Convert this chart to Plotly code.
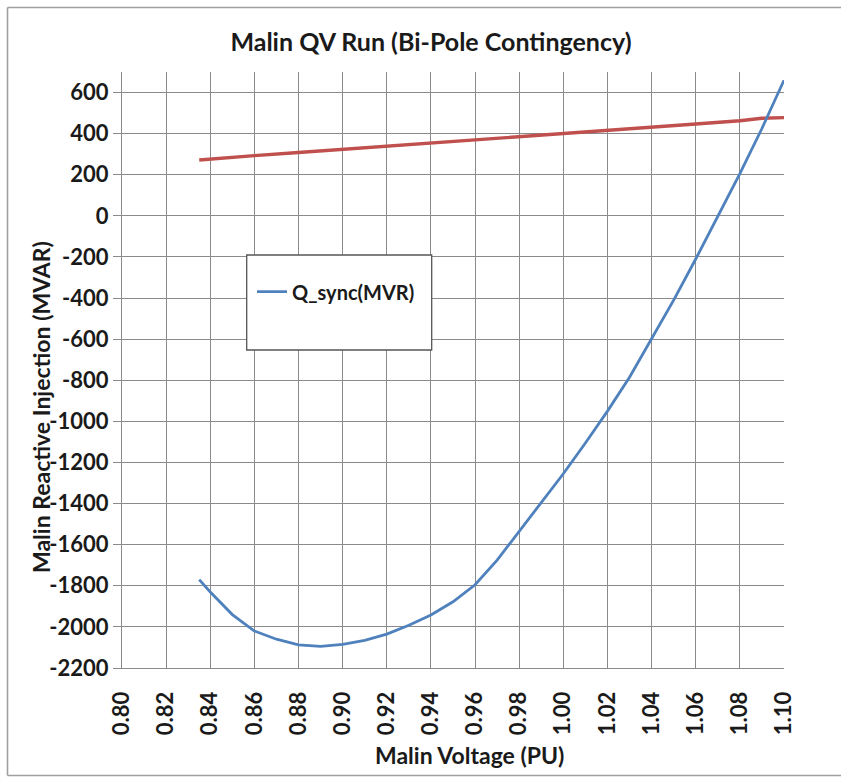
import plotly.graph_objects as go

# ---- data ----
voltage_pu = [0.835, 0.84, 0.85, 0.86, 0.87, 0.88, 0.89, 0.90, 0.91, 0.92, 0.93, 0.94,
              0.95, 0.96, 0.97, 0.98, 0.99, 1.00, 1.01, 1.02, 1.03, 1.04, 1.05, 1.06,
              1.07, 1.08, 1.09, 1.10]
q_sync = [-1770, -1830, -1940, -2020, -2060, -2087, -2095, -2085, -2065, -2035, -1992, -1942,
          -1878, -1795, -1675, -1535, -1395, -1255, -1105, -950, -785, -595, -410, -210,
          0, 205, 425, 660]

limit_voltage = [0.835, 0.84, 0.86, 0.88, 0.90, 0.92, 0.94, 0.96, 0.98, 1.00, 1.02, 1.04,
                 1.06, 1.08, 1.09, 1.10]
q_limit = [272, 277, 293, 308, 323, 339, 354, 369, 383, 400, 415, 430, 447, 463, 475, 478]

y_ticks = list(range(-2200, 601, 200))
y_tick_labels = [str(v) for v in y_ticks]
x_ticks = [0.80, 0.82, 0.84, 0.86, 0.88, 0.90, 0.92, 0.94, 0.96, 0.98, 1.00, 1.02, 1.04,
           1.06, 1.08, 1.10]
x_tick_labels = ["%.2f" % v for v in x_ticks]

title_text = "Malin QV Run (Bi-Pole Contingency)"
x_title = "Malin Voltage (PU)"
y_title = "Malin Reactive Injection (MVAR)"
legend_name = "Q_sync(MVR)"

# ---- layout helpers (screen pixel -> paper fraction; body margin removed) ----
W, H = 841, 777
L, T = 122, 72
PW, PH = 662, 596
R, B = W - L - PW, H - T - PH


def px(xs):
    return (xs - L) / PW


def py(ys):
    return (T + PH - ys) / PH


FONT = "Lato, 'Open Sans', sans-serif"
INK = "#1a1a1a"
GRID = "#8a8a8a"
FRAME = "#a0a0a0"

fig = go.Figure()
fig.add_trace(go.Scatter(x=limit_voltage, y=q_limit, mode="lines", showlegend=False,
                         line=dict(color="#C0504D", width=3.4), name="limit"))
fig.add_trace(go.Scatter(x=voltage_pu, y=q_sync, mode="lines", name=legend_name,
                         line=dict(color="#4F81BD", width=2.8)))


def frame_line(x0, y0, x1, y1):
    return dict(type="line", xref="paper", yref="paper",
                x0=px(x0), y0=py(y0), x1=px(x1), y1=py(y1),
                line=dict(color=FRAME, width=1.6), layer="below")


fig.update_layout(
    width=W, height=H,
    margin=dict(l=L, r=R, t=T, b=B),
    paper_bgcolor="white", plot_bgcolor="white",
    font=dict(family=FONT, color=INK),
    title=dict(text=title_text, x=431 / W, xref="container", xanchor="center",
               y=1 - 42 / H, yref="container", yanchor="middle",
               font=dict(size=25, family=FONT, color=INK, weight="bold")),
    showlegend=True,
    legend=dict(x=px(252), y=py(291.7), xanchor="left", yanchor="middle",
                bgcolor="rgba(0,0,0,0)", borderwidth=0,
                font=dict(size=20, family=FONT, color=INK, weight="bold")),
    xaxis=dict(range=[0.80, 1.10], tickvals=x_ticks, ticktext=x_tick_labels,
               tickangle=-90, tickfont=dict(size=22, family=FONT, color=INK, weight="bold"),
               showgrid=True, gridcolor=GRID, gridwidth=1,
               showline=True, linecolor=GRID, linewidth=1, zeroline=False,
               ticks="outside", ticklen=14, tickcolor="rgba(0,0,0,0)"),
    yaxis=dict(range=[-2200, 700], tickvals=y_ticks, ticktext=y_tick_labels,
               tickfont=dict(size=22, family=FONT, color=INK, weight="bold"),
               showgrid=True, gridcolor=GRID, gridwidth=1,
               showline=True, linecolor=GRID, linewidth=1, zeroline=False,
               ticks="outside", ticklen=8, tickcolor=GRID),
    shapes=[
        frame_line(7.5, 7.5, 841, 7.5),
        frame_line(7.5, 7.5, 7.5, 775.5),
        frame_line(7.5, 775.5, 841, 775.5),
        dict(type="rect", xref="paper", yref="paper",
             x0=px(246.7), x1=px(431.7), y0=py(350), y1=py(255),
             line=dict(color="#555555", width=1.3), fillcolor="white", layer="above"),
    ],
    annotations=[
        dict(text=x_title, xref="paper", yref="paper",
             x=px(470), y=py(755), xanchor="center", yanchor="middle", showarrow=False,
             font=dict(size=23, family=FONT, color=INK, weight="bold")),
        dict(text=y_title, xref="paper", yref="paper",
             x=px(41), y=py(407), xanchor="center", yanchor="middle", showarrow=False,
             textangle=-90, font=dict(size=23, family=FONT, color=INK, weight="bold")),
    ],
)

fig.write_html("out.html", config={"displayModeBar": False},
               post_script="document.body.style.margin='0';document.body.style.overflow='hidden';")
